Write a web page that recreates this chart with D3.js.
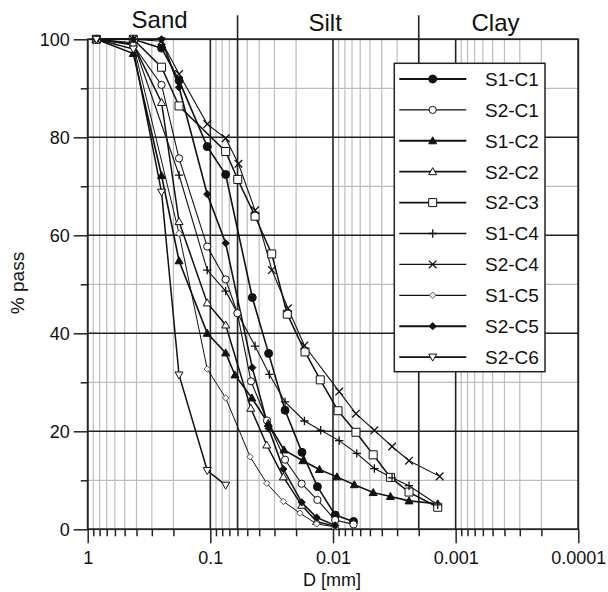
<!DOCTYPE html>
<html>
<head>
<meta charset="utf-8">
<script src="https://cdn.jsdelivr.net/npm/d3@7"></script>
<style>
body{margin:0;background:#fff;}
svg{display:block;font-family:"Liberation Sans",Arial,sans-serif;}
</style>
</head>
<body>
<div id="body"></div>
<script>
// grain size curves, [D in mm, % pass]
const s1c1 = [[0.85,100],[0.425,100],[0.25,98.2],[0.18,91.6],[0.106,78.1],[0.075,72.4],[0.0455,47.3],[0.0335,35.9],[0.0246,24.3],[0.0179,15.7],[0.0134,8.7],[0.0096,2.9],[0.0068,1.6]];
const s2c1 = [[0.85,100],[0.425,98.8],[0.25,90.7],[0.18,75.7],[0.106,57.7],[0.075,51.0],[0.0602,44.1],[0.0466,30.2],[0.0345,22.2],[0.0246,14.2],[0.018,9.3],[0.0134,6.0],[0.0096,1.9],[0.0068,1.0]];
const s1c2 = [[0.85,100],[0.425,97.1],[0.25,72.2],[0.18,54.8],[0.106,40.0],[0.075,36.0],[0.063,31.5],[0.0459,26.8],[0.0337,21.6],[0.0251,16.2],[0.0176,14.0],[0.0129,12.2],[0.0093,10.7],[0.0067,9.1],[0.0047,7.5],[0.0034,6.7],[0.0024,5.8],[0.0014,5.2]];
const s2c2 = [[0.85,100],[0.425,99],[0.25,87.1],[0.18,62.8],[0.106,46.2],[0.075,41.7],[0.0468,24.7],[0.0347,17.2],[0.0254,10.7],[0.018,4.9],[0.0136,1.6],[0.0096,0.6]];
const s2c3 = [[0.85,100],[0.425,100],[0.25,94.3],[0.18,86.4],[0.075,77.1],[0.0598,71.4],[0.0432,63.9],[0.0316,56.2],[0.0236,43.9],[0.0169,36.2],[0.0127,30.5],[0.0091,24.2],[0.0065,19.8],[0.0047,15.2],[0.0034,10.6],[0.0024,7.6],[0.0014,4.5]];
const s1c4 = [[0.85,100],[0.425,99.3],[0.18,72.3],[0.106,52.9],[0.075,48.6],[0.0432,37.4],[0.033,31.6],[0.0246,26.0],[0.0171,22.1],[0.0126,20.2],[0.0089,18.1],[0.0064,15.5],[0.0046,12.4],[0.0033,10.5],[0.0024,8.9],[0.0014,5.0]];
const s2c4 = [[0.85,100],[0.425,100],[0.25,99.6],[0.18,92.9],[0.106,82.7],[0.075,79.8],[0.059,74.6],[0.0432,65.1],[0.0315,52.9],[0.0233,45.1],[0.0171,37.5],[0.0089,28.1],[0.0065,23.6],[0.0046,20.2],[0.0033,16.9],[0.0024,14.0],[0.00135,10.8]];
const s1c5 = [[0.85,100],[0.425,99],[0.18,60.4],[0.106,32.7],[0.075,26.8],[0.0474,14.8],[0.0347,9.4],[0.0254,5.7],[0.0186,3.3],[0.0136,1.1],[0.0096,0.5]];
const s2c5 = [[0.85,100],[0.425,100],[0.25,100],[0.18,90.2],[0.106,68.4],[0.075,58.4],[0.0455,33.0],[0.0335,20.6],[0.0254,12.3],[0.018,5.5],[0.0136,2.4],[0.0096,0.8]];
const s2c6 = [[0.85,100],[0.425,98],[0.25,68.8],[0.18,31.5],[0.106,12.0],[0.075,9.0]];

const seriesNames = ["S1-C1","S2-C1","S1-C2","S2-C2","S2-C3","S1-C4","S2-C4","S1-C5","S2-C5","S2-C6"];
const seriesData = [s1c1,s2c1,s1c2,s2c2,s2c3,s1c4,s2c4,s1c5,s2c5,s2c6];

const xMajorTicks = [1,0.1,0.01,0.001,0.0001];
const yMajorTicks = [0,20,40,60,80,100];
const yMinorTicks = [10,30,50,70,90];
const zones = [{name:"Sand", from:1, to:0.06}, {name:"Silt", from:0.06, to:0.002}, {name:"Clay", from:0.002, to:0.0001}];

// marker style for each series
const styles = [
	{shape:"circle", fill:true, r:4, w:1.6},
	{shape:"circle", fill:false, r:3.6, w:1.1},
	{shape:"triUp", fill:true, r:4, w:1.6},
	{shape:"triUp", fill:false, r:4, w:1.5},
	{shape:"square", fill:false, r:4, w:1.5},
	{shape:"plus", fill:false, r:4.2, w:1.1},
	{shape:"cross", fill:false, r:3.8, w:1.1},
	{shape:"diamond", fill:false, r:3.2, w:1.0},
	{shape:"diamond", fill:true, r:3.6, w:1.6},
	{shape:"triDown", fill:false, r:4, w:1.5}
];

const margin = {top:39.3, right:29.7, bottom:62.7, left:87.7};
var width = 608 - margin.left - margin.right,
	height = 592 - margin.top - margin.bottom;
const dark = "#232323", gray = "#bdbdbd";

var svg = d3.select("#body").append("svg").attr("width", 608).attr("height", 592);
var g = svg.append("g").attr("transform", "translate(" + margin.left + "," + margin.top + ")");

var x = d3.scaleLog().domain([1, 0.0001]).range([0, width]);
var y = d3.scaleLinear().domain([0, 100]).range([height, 0]);

// minor log positions 2..9 in every decade
var xMinor = [];
for (var e = 0; e > -4; e--) {
	for (var k = 2; k <= 9; k++) xMinor.push(k * Math.pow(10, e - 1));
}

// gray grid
g.append("g").selectAll("line").data(xMinor).enter().append("line")
	.attr("x1", d => x(d)).attr("x2", d => x(d)).attr("y1", 0).attr("y2", height)
	.attr("stroke", gray).attr("stroke-width", 1.2);
g.append("g").selectAll("line").data(yMinorTicks).enter().append("line")
	.attr("x1", 0).attr("x2", width).attr("y1", d => y(d)).attr("y2", d => y(d))
	.attr("stroke", gray).attr("stroke-width", 1.2);

// dark grid
g.append("g").selectAll("line").data(xMajorTicks).enter().append("line")
	.attr("x1", d => x(d)).attr("x2", d => x(d)).attr("y1", 0).attr("y2", height)
	.attr("stroke", dark).attr("stroke-width", 1.6);
g.append("g").selectAll("line").data(yMajorTicks).enter().append("line")
	.attr("x1", 0).attr("x2", width).attr("y1", d => y(d)).attr("y2", d => y(d))
	.attr("stroke", dark).attr("stroke-width", 1.6);

// zone boundaries reach above the frame
g.append("g").selectAll("line").data([0.06, 0.002]).enter().append("line")
	.attr("x1", d => x(d)).attr("x2", d => x(d)).attr("y1", -24).attr("y2", height)
	.attr("stroke", dark).attr("stroke-width", 1.6);

g.append("g").selectAll("text").data(zones).enter().append("text")
	.attr("x", d => (x(d.from) + x(d.to)) / 2 - 3)
	.attr("y", (d, i) => i == 0 ? -11 : -8)
	.attr("text-anchor", "middle").attr("font-size", 24).attr("fill", "#111")
	.text(d => d.name);

// axes
function styleAxis(sel) {
	sel.select(".domain").remove();
	sel.selectAll("line").attr("stroke", dark).attr("stroke-width", 1.5);
	sel.selectAll("text").attr("fill", "#111");
}
g.append("g").attr("transform", "translate(0," + height + ")")
	.call(d3.axisBottom(x).tickValues(xMajorTicks).tickFormat(d3.format("~g")).tickSize(14).tickPadding(8))
	.attr("font-size", 18).attr("font-family", null).call(styleAxis);
g.append("g").attr("transform", "translate(0," + height + ")")
	.call(d3.axisBottom(x).tickValues(xMinor).tickFormat("").tickSize(7))
	.call(styleAxis);
g.append("g")
	.call(d3.axisLeft(y).tickValues(yMajorTicks).tickSize(14).tickPadding(4))
	.attr("font-size", 18).attr("font-family", null).call(styleAxis);
g.append("g")
	.call(d3.axisLeft(y).tickValues(yMinorTicks).tickFormat("").tickSize(7))
	.call(styleAxis);

// frame
g.append("rect").attr("x", 0).attr("y", 0).attr("width", width).attr("height", height)
	.attr("fill", "none").attr("stroke", dark).attr("stroke-width", 1.6);

// marker shapes
function markerPath(shape, s) {
	switch (shape) {
		case "circle": return "M" + (-s) + ",0a" + s + "," + s + " 0 1,0 " + (2*s) + ",0a" + s + "," + s + " 0 1,0 " + (-2*s) + ",0Z";
		case "triUp": return "M0," + (-s) + "L" + s + "," + (s*0.75) + "L" + (-s) + "," + (s*0.75) + "Z";
		case "triDown": return "M0," + s + "L" + s + "," + (-s*0.75) + "L" + (-s) + "," + (-s*0.75) + "Z";
		case "square": return "M" + (-s) + "," + (-s) + "h" + (2*s) + "v" + (2*s) + "h" + (-2*s) + "Z";
		case "plus": return "M" + (-s) + ",0H" + s + "M0," + (-s) + "V" + s;
		case "cross": return "M" + (-s) + "," + (-s) + "L" + s + "," + s + "M" + (-s) + "," + s + "L" + s + "," + (-s);
		case "diamond": return "M0," + (-s) + "L" + s + ",0L0," + s + "L" + (-s) + ",0Z";
	}
}
function drawMarker(sel, st) {
	sel.append("path").attr("d", markerPath(st.shape, st.r))
		.attr("fill", st.fill ? "#111" : "#fff")
		.attr("stroke", st.shape == "diamond" && !st.fill ? "#555" : "#111")
		.attr("stroke-width", st.shape == "plus" || st.shape == "cross" ? 1.3 : 1);
}

var line = d3.line().x(d => x(d[0])).y(d => y(d[1]));

// curves
seriesData.forEach(function(data, i) {
	g.append("path").attr("d", line(data)).attr("fill", "none")
		.attr("stroke", "#111").attr("stroke-width", styles[i].w);
});
seriesData.forEach(function(data, i) {
	g.append("g").selectAll("g").data(data).enter().append("g")
		.attr("transform", d => "translate(" + x(d[0]) + "," + y(d[1]) + ")")
		.each(function() { drawMarker(d3.select(this), styles[i]); });
});

// legend
var legend = svg.append("g").attr("transform", "translate(394.3,63.3)");
legend.append("rect").attr("width", 150.7).attr("height", 308.4)
	.attr("fill", "#fff").attr("stroke", dark).attr("stroke-width", 1.5);
seriesNames.forEach(function(name, i) {
	var row = legend.append("g").attr("transform", "translate(0," + (15.7 + i * 30.9) + ")");
	row.append("line").attr("x1", 5).attr("x2", 72).attr("y1", 0).attr("y2", 0)
		.attr("stroke", "#111").attr("stroke-width", styles[i].w + 0.3);
	drawMarker(row.append("g").attr("transform", "translate(38.4,0)"), styles[i]);
	row.append("text").attr("x", 90.7).attr("y", 0).attr("dy", "0.36em")
		.attr("font-size", 19).attr("fill", "#111").text(name);
});

// axis titles
svg.append("text").attr("x", 332).attr("y", 586).attr("text-anchor", "middle")
	.attr("font-size", 18).attr("fill", "#111").text("D [mm]");
svg.append("text").attr("transform", "translate(24,283) rotate(-90)").attr("text-anchor", "middle")
	.attr("font-size", 19).attr("fill", "#111").text("% pass");
</script>
</body>
</html>
